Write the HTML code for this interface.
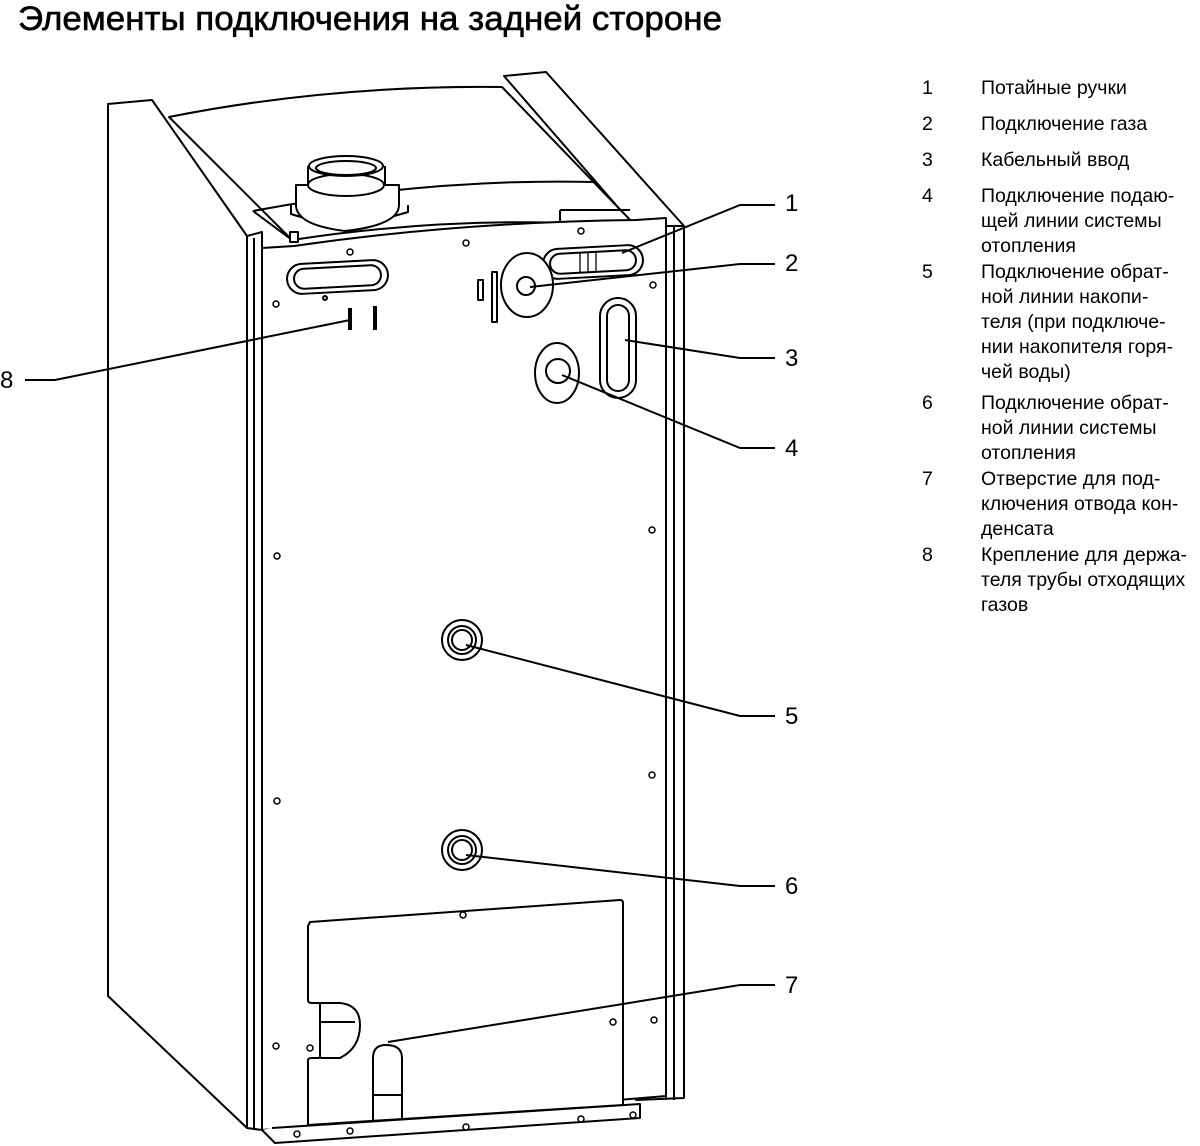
<!DOCTYPE html>
<html><head><meta charset="utf-8"><style>
body{margin:0;background:#fff}
svg{display:block}
text{font-family:"Liberation Sans","Noto Sans CJK SC",sans-serif;fill:#000}
.l{font-size:19.5px}
</style></head><body>
<svg width="1200" height="1146" viewBox="0 0 1200 1146">
<text x="18" y="30" font-size="34" textLength="704" lengthAdjust="spacingAndGlyphs" stroke="#000" stroke-width="0.6">Элементы подключения на задней стороне</text>

<g fill="none" stroke="#000" stroke-width="2" stroke-linejoin="round">
<!-- left side panel -->
<path d="M108,104 L152,100 L247,236 L247,1128 L108,996 Z" fill="#fff"/>
<!-- right post -->
<path d="M504,76 L546,72 L684,226 L684,1098 L636,1100 L636,228 Z" fill="#fff"/>
<!-- top cover -->
<path d="M169,117 Q330,85 502,87 L636,226 Q460,214 292,240 Z" fill="#fff"/>
<path d="M253,211 Q430,178 594,182"/>
<path d="M253,211 L292,240"/>
<!-- front frame strips -->
<path d="M247,236 L262,232 L262,1130 L247,1128"/>
<path d="M254,238 L254,1128"/>
<path d="M666,228 L666,1100 M674,226 L674,1100"/>
<path d="M636,226 L684,226"/>
<!-- front panel -->
<path d="M262,248 L294,246 Q460,222 636,220 L666,218 L666,1096 L262,1130 Z" fill="#fff"/>
<path d="M560,210 L560,222 M560,210 L630,210"/>
<rect x="290" y="232" width="8" height="10" fill="#fff"/>
<!-- chimney -->
<path d="M291,205 L291,214 Q345,232 408,212 L408,205" fill="#fff"/>
<path d="M296,205 Q296,225 345,231 Q399,225 399,205 L399,185 L296,185 Z" fill="#fff"/>
<path d="M308,185 L308,166 M385,185 L385,166"/>
<ellipse cx="346" cy="185" rx="38" ry="11" fill="#fff"/>
<ellipse cx="346" cy="166" rx="37" ry="10" fill="#fff"/>
<ellipse cx="346" cy="168" rx="30" ry="7"/>
<!-- left handle -->
<rect x="287" y="262" width="101" height="30" rx="15" fill="#fff" transform="rotate(-3 337 277)"/>
<rect x="294" y="267" width="87" height="20" rx="10" transform="rotate(-3 337 277)"/>
<!-- right handle -->
<rect x="543" y="247" width="100" height="30" rx="15" fill="#fff" transform="rotate(-3 593 262)"/>
<rect x="550" y="252" width="86" height="20" rx="10" transform="rotate(-3 593 262)"/>
<path d="M580,252 L580,272 M588,252 L588,272 M596,252 L596,272" stroke-width="1.3"/>
<!-- gas -->
<ellipse cx="527" cy="285" rx="26" ry="32" fill="#fff"/>
<circle cx="526" cy="286" r="9" fill="#fff"/>
<rect x="478" y="280" width="5" height="20"/>
<rect x="492" y="272" width="5" height="50"/>
<!-- mounts 8 -->
<path d="M350,308 L350,330 M375,306 L375,330" stroke-width="4"/>
<circle cx="325" cy="298" r="2"/>
<!-- slot 3 -->
<rect x="600" y="298" width="36" height="100" rx="18" fill="#fff"/>
<rect x="607" y="305" width="22" height="86" rx="11"/>
<!-- 4 -->
<ellipse cx="557" cy="373" rx="22" ry="30" fill="#fff"/>
<circle cx="558" cy="371" r="12" fill="#fff"/>
<!-- 5 & 6 -->
<circle cx="462" cy="640" r="20" fill="#fff"/>
<circle cx="462" cy="640" r="14"/>
<circle cx="462" cy="640" r="10"/>
<circle cx="462" cy="850" r="20" fill="#fff"/>
<circle cx="462" cy="850" r="14"/>
<circle cx="462" cy="850" r="10"/>
<!-- bottom bracket -->
<path d="M262,1130 L275,1143 L640,1118 L640,1104 L272,1128" fill="#fff"/>
<!-- lower cover -->
<path d="M310,922 L620,900 Q623,900 623,903 L623,1105 L308,1125 L308,1060 Q308,1058 312,1058 L340,1058 Q360,1048 360,1025 Q360,1005 340,1003 L312,1003 Q308,1003 308,1000 L308,926 Z" fill="#fff"/>
<path d="M320,1004 L320,1057 M320,1022 L355,1022"/>
<path d="M373,1120 L373,1058 Q373,1045 386,1045 Q402,1045 402,1058 L402,1118"/>
<path d="M373,1095 L402,1095"/>
</g>

<!-- screws -->
<g fill="#fff" stroke="#000" stroke-width="1.5">
<circle cx="350" cy="252" r="3"/><circle cx="466" cy="243" r="3"/><circle cx="581" cy="231" r="3"/>
<circle cx="276" cy="304" r="3"/><circle cx="653" cy="285" r="3"/><circle cx="652" cy="530" r="3"/>
<circle cx="277" cy="556" r="3"/><circle cx="652" cy="775" r="3"/><circle cx="277" cy="801" r="3"/>
<circle cx="463" cy="915" r="3"/><circle cx="310" cy="1048" r="3"/><circle cx="613" cy="1022" r="3"/>
<circle cx="654" cy="1020" r="3"/><circle cx="276" cy="1046" r="3"/><circle cx="297" cy="1134" r="3"/>
<circle cx="350" cy="1131" r="3"/><circle cx="466" cy="1127" r="3"/><circle cx="581" cy="1119" r="3"/>
<circle cx="633" cy="1115" r="3"/>
</g>

<!-- leaders -->
<g fill="none" stroke="#000" stroke-width="2">
<path d="M622,253 L740,205 L775,205"/>
<path d="M530,287 L740,264 L775,264"/>
<path d="M625,340 L740,358 L775,358"/>
<path d="M562,375 L740,448 L775,448"/>
<path d="M466,645 L740,716 L775,716"/>
<path d="M466,855 L740,886 L775,886"/>
<path d="M388,1042 L740,985 L775,985"/>
<path d="M350,320 L55,380 L25,380"/>
</g>
<g font-size="24">
<text x="785" y="211">1</text><text x="785" y="271">2</text><text x="785" y="366">3</text>
<text x="785" y="456">4</text><text x="785" y="724">5</text><text x="785" y="894">6</text>
<text x="785" y="993">7</text><text x="0" y="388">8</text>
</g>

<g class="l">
<text x="922" y="94">1</text><text x="981" y="94">Потайные ручки</text>
<text x="922" y="130">2</text><text x="981" y="130">Подключение газа</text>
<text x="922" y="166">3</text><text x="981" y="166">Кабельный ввод</text>
<text x="922" y="202">4</text><text x="981" y="202">Подключение подаю-</text>
<text x="981" y="227">щей линии системы</text><text x="981" y="252">отопления</text>
<text x="922" y="278">5</text><text x="981" y="278">Подключение обрат-</text>
<text x="981" y="303">ной линии накопи-</text><text x="981" y="328">теля (при подключе-</text>
<text x="981" y="353">нии накопителя горя-</text><text x="981" y="378">чей воды)</text>
<text x="922" y="409">6</text><text x="981" y="409">Подключение обрат-</text>
<text x="981" y="434">ной линии системы</text><text x="981" y="459">отопления</text>
<text x="922" y="485">7</text><text x="981" y="485">Отверстие для под-</text>
<text x="981" y="510">ключения отвода кон-</text><text x="981" y="535">денсата</text>
<text x="922" y="561">8</text><text x="981" y="561">Крепление для держа-</text>
<text x="981" y="586">теля трубы отходящих</text><text x="981" y="611">газов</text>
</g>
</svg>
</body></html>
